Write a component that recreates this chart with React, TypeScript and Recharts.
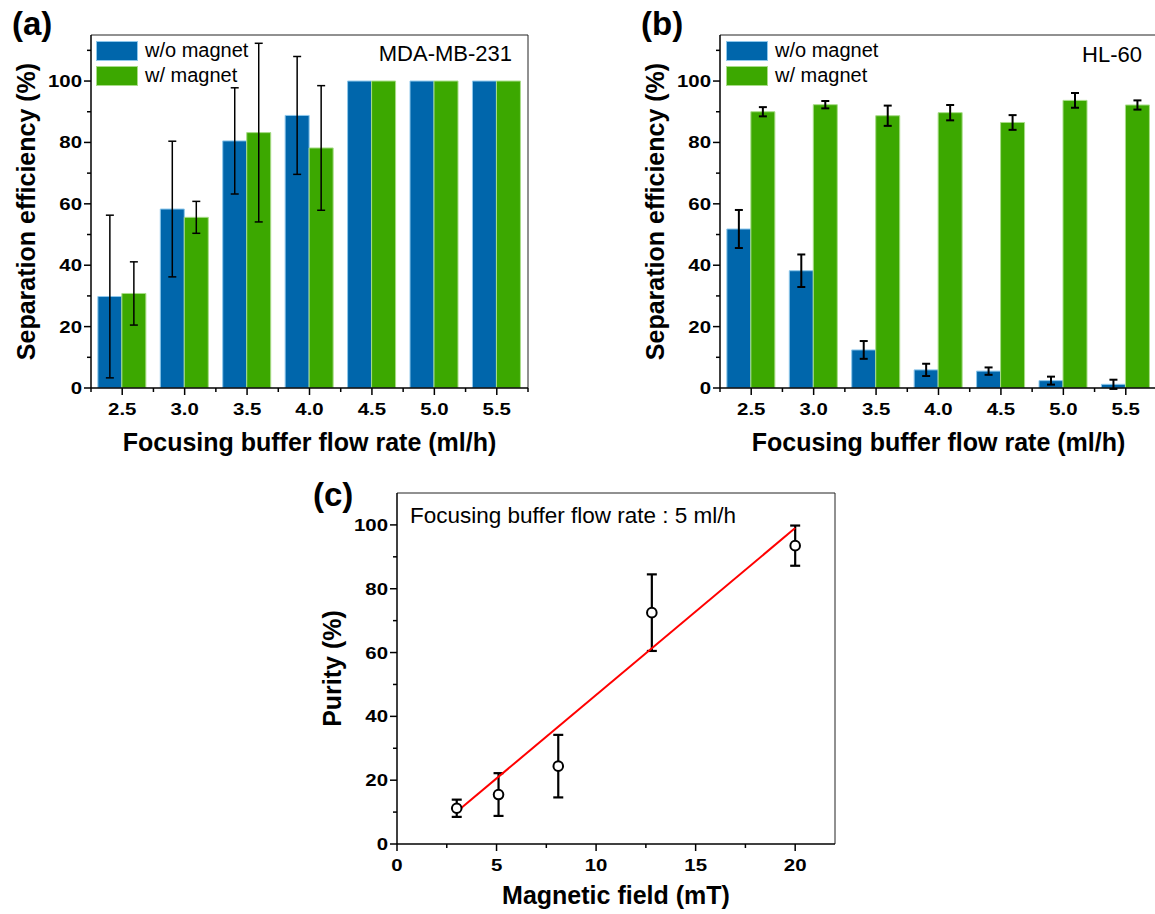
import React from 'react';
import {
  BarChart,
  Bar,
  XAxis,
  YAxis,
  ErrorBar,
  Legend,
  ComposedChart,
  Scatter,
  Line,
  Label,
  CartesianGrid,
} from 'recharts';

const FONT = '"Liberation Sans", Arial, Helvetica, sans-serif';

// ---------- data ----------
const flowRates = ['2.5', '3.0', '3.5', '4.0', '4.5', '5.0', '5.5'];

// (a) MDA-MB-231
const mdaWithout = [29.8, 58.3, 80.5, 88.8, 100, 100, 100];
const mdaWithoutErr = [26.5, 22.1, 17.3, 19.2, 0, 0, 0];
const mdaWith = [30.8, 55.6, 83.2, 78.2, 100, 100, 100];
const mdaWithErr = [10.3, 5.2, 29.1, 20.3, 0, 0, 0];

// (b) HL-60
const hlWithout = [51.8, 38.2, 12.4, 5.9, 5.5, 2.4, 1.2];
const hlWithoutErr = [6.2, 5.3, 2.9, 2.0, 1.2, 1.3, 1.5];
const hlWith = [90.0, 92.3, 88.7, 89.7, 86.5, 93.7, 92.2];
const hlWithErr = [1.5, 1.2, 3.3, 2.5, 2.4, 2.4, 1.5];

// (c) purity vs magnetic field
const fields = [3.0, 5.1, 8.1, 12.8, 20.0];
const purity = [11.2, 15.5, 24.4, 72.5, 93.5];
const purityErr = [2.7, 6.7, 9.8, 12.0, 6.3];
const fitFields = [3.0, 20.0];
const fitPurity = [10.1, 99.0];

const effTicks = [0, 10, 20, 30, 40, 50, 60, 70, 80, 90, 100, 110];
const purityTicks = [0, 10, 20, 30, 40, 50, 60, 70, 80, 90, 100];
const fieldTicks = [0, 2.5, 5, 7.5, 10, 12.5, 15, 17.5, 20];

const seriesNames = ['w/o magnet', 'w/ magnet'];

const mdaData = flowRates.map((c, i) => ({
  cat: c,
  wo: mdaWithout[i],
  woErr: mdaWithoutErr[i],
  w: mdaWith[i],
  wErr: mdaWithErr[i],
}));
const hlData = flowRates.map((c, i) => ({
  cat: c,
  wo: hlWithout[i],
  woErr: hlWithoutErr[i],
  w: hlWith[i],
  wErr: hlWithErr[i],
}));
const purityData = fields.map((f, i) => ({ x: f, y: purity[i], err: purityErr[i] }));
const fitData = fitFields.map((f, i) => ({ x: f, y: fitPurity[i] }));

// ---------- styles ----------
const BLUE = '#0066ab';
const BLUE_EDGE = '#8ec8ec';
const GREEN = '#3ca800';
const GREEN_EDGE = '#a8dc88';
const EDGES = [BLUE_EDGE, GREEN_EDGE];

const TickText = ({ x, y, anchor, children }: any) => (
  <text
    transform={`translate(${x},${y}) scale(1.2,1)`}
    textAnchor={anchor}
    fontFamily={FONT}
    fontWeight="bold"
    fontSize={17}
    fill="#000"
  >
    {children}
  </text>
);

const makeYTick = (step: number) => (props: any) => {
  const { x, y, payload } = props;
  const v = Number(payload.value);
  const major = Math.abs(v % step) < 1e-6;
  return (
    <g>
      <line x1={x} x2={x - (major ? 7 : 4)} y1={y} y2={y} stroke="#000" strokeWidth={1.5} />
      {major && (
        <TickText x={x - 9} y={y + 6} anchor="end">
          {v}
        </TickText>
      )}
    </g>
  );
};

const CatTick = (props: any) => {
  const { x, y, payload, index, visibleTicksCount } = props;
  const half = payload && payload.offset ? payload.offset : 31.2;
  return (
    <g>
      <line x1={x} x2={x} y1={y} y2={y + 7} stroke="#000" strokeWidth={1.5} />
      <line x1={x - half} x2={x - half} y1={y} y2={y + 4} stroke="#000" strokeWidth={1.5} />
      {index === visibleTicksCount - 1 && (
        <line x1={x + half} x2={x + half} y1={y} y2={y + 4} stroke="#000" strokeWidth={1.5} />
      )}
      <TickText x={x} y={y + 27} anchor="middle">
        {payload.value}
      </TickText>
    </g>
  );
};

const NumXTick = (props: any) => {
  const { x, y, payload } = props;
  const v = Number(payload.value);
  const major = Math.abs(v % 5) < 1e-6;
  return (
    <g>
      <line x1={x} x2={x} y1={y} y2={y + (major ? 7 : 4)} stroke="#000" strokeWidth={1.5} />
      {major && (
        <TickText x={x} y={y + 27} anchor="middle">
          {v}
        </TickText>
      )}
    </g>
  );
};

const xTitle = (text: string, dy: number) => (props: any) => {
  const vb = props.viewBox || {};
  return (
    <text
      x={vb.x + vb.width / 2}
      y={vb.y + dy}
      textAnchor="middle"
      fontFamily={FONT}
      fontWeight="bold"
      fontSize={25}
      fill="#000"
    >
      {text}
    </text>
  );
};

const yTitle = (text: string) => (props: any) => {
  const vb = props.viewBox || {};
  const cx = vb.x + vb.width - 56;
  const cy = vb.y + vb.height / 2;
  return (
    <text
      x={cx}
      y={cy}
      transform={`rotate(-90, ${cx}, ${cy})`}
      textAnchor="middle"
      fontFamily={FONT}
      fontWeight="bold"
      fontSize={25}
      fill="#000"
    >
      {text}
    </text>
  );
};

const LegendContent = (props: any) => {
  const payload = [...(props.payload || [])].sort(
    (a: any, b: any) => seriesNames.indexOf(a.value) - seriesNames.indexOf(b.value)
  );
  return (
    <div style={{ fontFamily: FONT, fontSize: 20, color: '#000' }}>
      {payload.map((p: any, i: number) => (
        <div key={i} style={{ display: 'flex', alignItems: 'center', height: 25 }}>
          <span
            style={{
              display: 'inline-block',
              width: 42,
              height: 20,
              background: p.color,
              border: `1px solid ${EDGES[seriesNames.indexOf(p.value)] || '#fff'}`,
              boxSizing: 'border-box',
              marginRight: 7,
            }}
          />
          <span style={{ lineHeight: '25px', whiteSpace: 'nowrap' }}>{p.value}</span>
        </div>
      ))}
    </div>
  );
};

const OpenCircle = (props: any) => {
  const { cx, cy } = props;
  return <circle cx={cx} cy={cy} r={4.8} fill="#fff" stroke="#000" strokeWidth={2} />;
};

const AXIS_LINE = { stroke: '#000', strokeWidth: 1.5 };

// Frame (top & right border) drawn through the grid, from the plot offset
const topFrame = ({ offset }: any) => [offset.top];
const rightFrame = ({ offset }: any) => [offset.left + offset.width];

const Frame = () => (
  <CartesianGrid
    stroke="#222"
    strokeWidth={1}
    horizontalCoordinatesGenerator={topFrame}
    verticalCoordinatesGenerator={rightFrame}
  />
);

const BarPanel = ({ data, width, marginRight, yAxisWidth, errWidth }: any) => (
  <BarChart
    width={width}
    height={460}
    data={data}
    margin={{ top: 35, right: marginRight, bottom: 0, left: 0 }}
    barCategoryGap="11%"
    barGap={0}
  >
    {Frame()}
    <XAxis
      dataKey="cat"
      height={72}
      interval={0}
      tickSize={0}
      tickMargin={0}
      tickLine={false}
      axisLine={AXIS_LINE}
      tick={CatTick}
    >
      <Label content={xTitle('Focusing buffer flow rate (ml/h)', 63)} />
    </XAxis>
    <YAxis
      width={yAxisWidth}
      domain={[0, 115]}
      ticks={effTicks}
      interval={0}
      tickSize={0}
      tickMargin={0}
      tickLine={false}
      axisLine={AXIS_LINE}
      tick={makeYTick(20)}
      allowDataOverflow
    >
      <Label content={yTitle('Separation efficiency (%)')} />
    </YAxis>
    <Legend
      layout="vertical"
      align="center"
      verticalAlign="middle"
      content={LegendContent}
      wrapperStyle={{ position: 'absolute', left: 96, top: 38, width: 'auto', height: 'auto' }}
    />
    <Bar dataKey="wo" name={seriesNames[0]} fill={BLUE} stroke={BLUE_EDGE} strokeWidth={1} isAnimationActive={false}>
      <ErrorBar dataKey="woErr" direction="y" width={4} stroke="#000" strokeWidth={errWidth} />
    </Bar>
    <Bar dataKey="w" name={seriesNames[1]} fill={GREEN} stroke={GREEN_EDGE} strokeWidth={1} isAnimationActive={false}>
      <ErrorBar dataKey="wErr" direction="y" width={4} stroke="#000" strokeWidth={errWidth} />
    </Bar>
  </BarChart>
);

export default function App() {
  const ann = { fontFamily: FONT, fill: '#000' } as any;
  return (
    <div
      style={{
        position: 'absolute',
        left: 0,
        top: 0,
        width: 1155,
        height: 914,
        overflow: 'hidden',
        background: '#fff',
      }}
    >
      <div style={{ position: 'absolute', left: 0, top: 0 }}>
        <BarPanel data={mdaData} width={560} marginRight={32} yAxisWidth={91} errWidth={1.5} />
      </div>
      <div style={{ position: 'absolute', left: 630, top: 0 }}>
        <BarPanel data={hlData} width={540} marginRight={13} yAxisWidth={90} errWidth={2} />
      </div>
      <div style={{ position: 'absolute', left: 300, top: 455 }}>
        <ComposedChart width={560} height={459} margin={{ top: 38, right: 25, bottom: 0, left: 0 }}>
          {Frame()}
          <XAxis
            type="number"
            dataKey="x"
            domain={[0, 22]}
            ticks={fieldTicks}
            interval={0}
            height={70}
            tickSize={0}
            tickMargin={0}
            tickLine={false}
            axisLine={AXIS_LINE}
            tick={NumXTick}
            allowDataOverflow
          >
            <Label content={xTitle('Magnetic field (mT)', 60)} />
          </XAxis>
          <YAxis
            type="number"
            dataKey="y"
            width={97}
            domain={[0, 110]}
            ticks={purityTicks}
            interval={0}
            tickSize={0}
            tickMargin={0}
            tickLine={false}
            axisLine={AXIS_LINE}
            tick={makeYTick(20)}
            allowDataOverflow
          >
            <Label content={yTitle('Purity (%)')} />
          </YAxis>
          <Scatter data={purityData} dataKey="y" shape={OpenCircle} isAnimationActive={false}>
            <ErrorBar dataKey="err" direction="y" width={5} stroke="#000" strokeWidth={2.2} />
          </Scatter>
          <Line
            data={fitData}
            dataKey="y"
            stroke="#ff0000"
            strokeWidth={2}
            dot={false}
            activeDot={false}
            isAnimationActive={false}
          />
        </ComposedChart>
      </div>
      <svg
        width={1155}
        height={914}
        style={{ position: 'absolute', left: 0, top: 0, pointerEvents: 'none' }}
      >
        <text {...ann} x={12} y={35} fontSize={33} fontWeight="bold">(a)</text>
        <text {...ann} x={641} y={35} fontSize={33} fontWeight="bold">(b)</text>
        <text {...ann} x={313} y={506} fontSize={33} fontWeight="bold">(c)</text>
        <text {...ann} x={512} y={61} fontSize={22} textAnchor="end">MDA-MB-231</text>
        <text {...ann} x={1142} y={62} fontSize={22} textAnchor="end">HL-60</text>
        <text {...ann} x={410} y={523} fontSize={22.5}>Focusing buffer flow rate : 5 ml/h</text>
      </svg>
    </div>
  );
}
